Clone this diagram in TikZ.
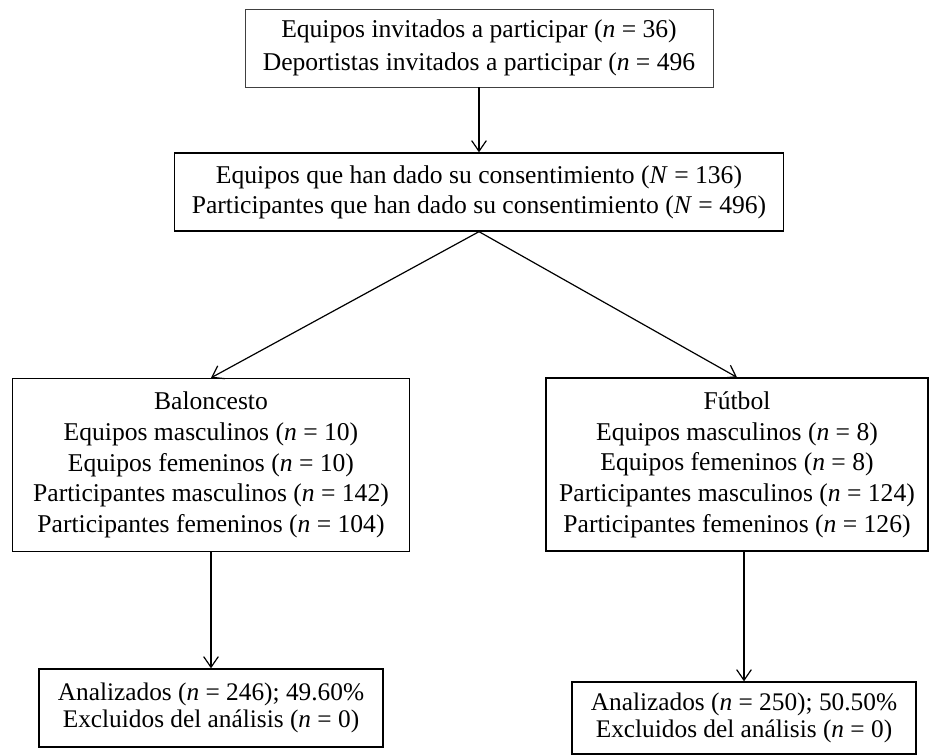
\documentclass[tikz,border=0pt]{standalone}
\usepackage{fontspec}
\setmainfont{Liberation Serif}
\usetikzlibrary{arrows.meta}
\tikzset{
	box/.style={draw, line width=1pt, align=center, inner sep=0pt,
		font=\fontsize{19.2}{23}\selectfont},
	flow/.style={-{Straight Barb[length=8pt,width=11pt]}, line width=0.9pt}
}
\begin{document}
\begin{tikzpicture}[x=0.75pt, y=-0.75pt]
\useasboundingbox (0,0) rectangle (929,755);
\node[box, draw=black!75, line width=0.6pt, minimum width=351pt, minimum height=58.5pt,
	font=\fontsize{19.2}{24.75}\selectfont]
	(invitados) at (479,48)
	{Equipos invitados a participar (\textit{n} = 36)\\
	Deportistas invitados a participar (\textit{n} = 496};
\node[box, minimum width=456.75pt, minimum height=58.5pt,
	font=\fontsize{19.2}{22.5}\selectfont]
	(consent) at (479,192)
	{Equipos que han dado su consentimiento (\textit{N} = 136)\\
	Participantes que han dado su consentimiento (\textit{N} = 496)};
\node[box, minimum width=297.75pt, minimum height=129.75pt]
	(balon) at (211,465)
	{Baloncesto\\
	Equipos masculinos (\textit{n} = 10)\\
	Equipos femeninos (\textit{n} = 10)\\
	Participantes masculinos (\textit{n} = 142)\\
	Participantes femeninos (\textit{n} = 104)};
\node[box, minimum width=286.5pt, minimum height=129.75pt]
	(futbol) at (737,464.5)
	{Fútbol\\
	Equipos masculinos (\textit{n} = 8)\\
	Equipos femeninos (\textit{n} = 8)\\
	Participantes masculinos (\textit{n} = 124)\\
	Participantes femeninos (\textit{n} = 126)};
\node[box, minimum width=258pt, minimum height=58.5pt,
	font=\fontsize{19}{20}\selectfont]
	(balonan) at (211,708)
	{Analizados (\textit{n} = 246); 49.60\%\\
	Excluidos del análisis (\textit{n} = 0)};
\node[box, minimum width=258pt, minimum height=54pt,
	font=\fontsize{19}{20}\selectfont]
	(futbolan) at (744,718)
	{Analizados (\textit{n} = 250); 50.50\%\\
	Excluidos del análisis (\textit{n} = 0)};
\draw[flow] (invitados) -- (consent);
\draw[flow] (consent.south) -- (balon.north);
\draw[flow] (consent.south) -- (futbol.north);
\draw[flow] (balon) -- (balonan);
\draw[flow] (futbolan.north |- futbol.south) -- (futbolan.north);
\end{tikzpicture}
\end{document}
